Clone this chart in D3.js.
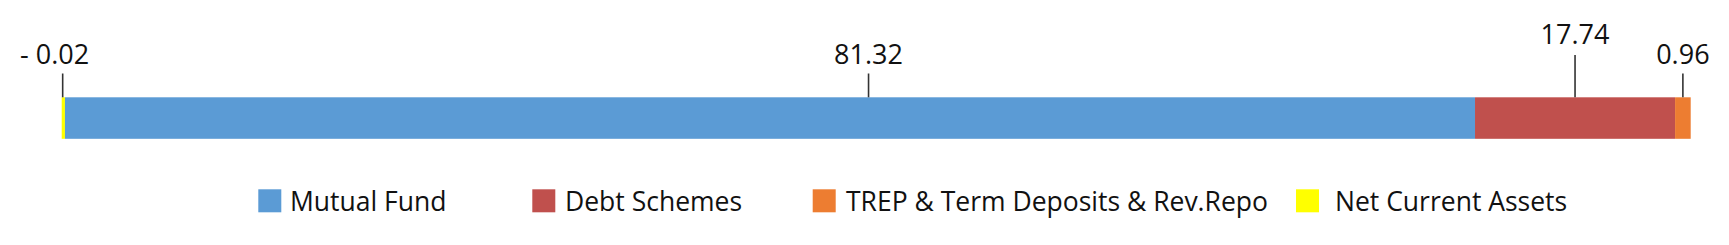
<!DOCTYPE html>
<html>
<head>
<meta charset="utf-8">
<script src="https://cdn.jsdelivr.net/npm/d3@7"></script>
<style>
  html, body { margin: 0; padding: 0; background: #fff; }
  svg { display: block; }
  text { font-family: "Open Sans", "Noto Sans", sans-serif; fill: #111; }
</style>
</head>
<body>
<svg id="chart" width="1729" height="245"></svg>
<script>
// ---- data ----
const categories = ["Net Current Assets", "Mutual Fund", "Debt Schemes", "TREP & Term Deposits & Rev.Repo"];
const labelValues = [-0.02, 81.32, 17.74, 0.96];
// drawn segment lengths as they appear in the picture (share of bar, %)
const drawnShares = [0.2, 86.56, 12.28, 0.96];
// where each callout sits along the bar (share of bar, %)
const labelAt = [0.06, 49.53, 92.9, 99.52];
const labelLevel = [0, 0, 1, 0];
const colors = ["#FFFF00", "#5B9BD5", "#C0504D", "#ED7D31"];
const legendOrder = ["Mutual Fund", "Debt Schemes", "TREP & Term Deposits & Rev.Repo", "Net Current Assets"];

// ---- layout ----
const svg = d3.select("#chart");
const x = d3.scaleLinear().domain([0, 100]).range([61.7, 1690.7]);
const barTop = 97.3, barH = 41.5;

let acc = 0;
const segs = categories.map((c, i) => {
  const s = { cat: c, x0: acc, x1: acc + drawnShares[i], color: colors[i],
              label: labelValues[i], at: labelAt[i], level: labelLevel[i] };
  acc += drawnShares[i];
  return s;
});

svg.append("g").selectAll("rect").data(segs).join("rect")
  .attr("x", d => x(d.x0))
  .attr("y", barTop)
  .attr("width", d => x(d.x1) - x(d.x0))
  .attr("height", barH)
  .attr("fill", d => d.color);

const fmt = v => v < 0 ? "- " + d3.format(".2f")(-v) : d3.format(".2f")(v);
const baselines = [64, 44];
const tickTops = [73.5, 55];

const lab = svg.append("g").selectAll("g").data(segs).join("g");
lab.append("line")
  .attr("x1", d => x(d.at)).attr("x2", d => x(d.at))
  .attr("y1", d => tickTops[d.level]).attr("y2", barTop)
  .attr("stroke", "#333").attr("stroke-width", 1.6);
lab.append("text")
  .attr("x", d => x(d.at) + (d.label < 0 ? -8 : 0))
  .attr("y", d => baselines[d.level])
  .attr("text-anchor", "middle")
  .style("font-size", "27px")
  .text(d => fmt(d.label));

// legend
const legendX = [258.3, 532.3, 812.7, 1296];
const legendTextX = [290, 565, 846, 1335];
const lg = svg.append("g").selectAll("g").data(legendOrder).join("g");
lg.append("rect")
  .attr("x", (d, i) => legendX[i]).attr("y", 189.3)
  .attr("width", 23).attr("height", 23)
  .attr("fill", d => colors[categories.indexOf(d)]);
lg.append("text")
  .attr("x", (d, i) => legendTextX[i]).attr("y", 211)
  .style("font-size", "26.5px")
  .text(d => d);
</script>
</body>
</html>
